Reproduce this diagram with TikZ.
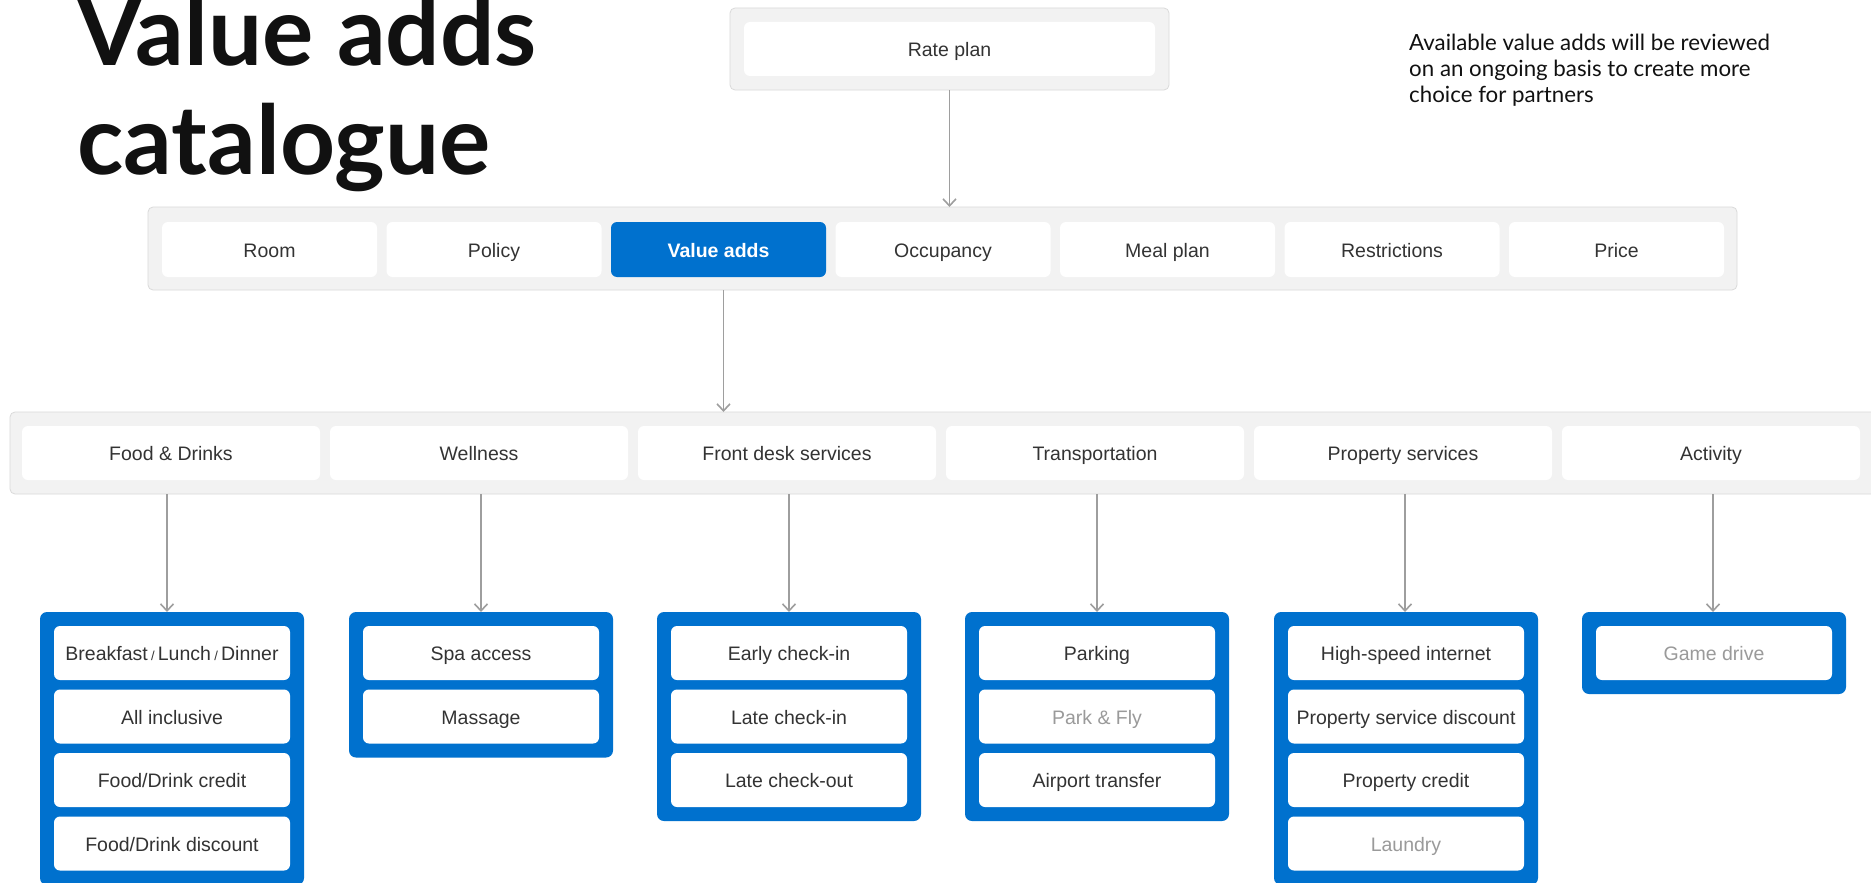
\documentclass[tikz,border=0pt]{standalone}
\usepackage{fontspec}
\setmainfont{Liberation Sans}
\newfontfamily\latof{Lato}
\usetikzlibrary{arrows.meta}
\definecolor{contbg}{HTML}{F2F2F2}
\definecolor{contln}{HTML}{DADADA}
\definecolor{vblue}{HTML}{0071CE}
\definecolor{txt}{HTML}{333333}
\definecolor{mute}{HTML}{9A9A9A}
\definecolor{arrc}{HTML}{9E9E9E}
\definecolor{ink}{HTML}{111111}
\begin{document}
\begin{tikzpicture}[x=1pt,y=-1pt,
  cont/.style={anchor=north west,inner sep=0pt,outer sep=0pt,fill=contbg,draw=contln,line width=0.8pt,rounded corners=5pt},
  box/.style={anchor=north west,inner sep=0pt,outer sep=0pt,fill=white,rounded corners=6pt,text=txt,font=\fontsize{19.5}{22}\selectfont,text height=15.5pt,text depth=0.5pt},
  rbox/.style={box,minimum width=215pt,minimum height=55pt},
  hbox/.style={box,minimum width=298pt,minimum height=54pt},
  ibox/.style={box,minimum width=236pt,minimum height=54pt},
  grp/.style={anchor=north west,inner sep=0pt,outer sep=0pt,fill=vblue,rounded corners=7pt,minimum width=264pt},
  link/.style={draw=arrc,line width=1.6pt,-{Straight Barb[length=7pt,width=13pt]}},
]
\clip (0,0) rectangle (1871,883);
\fill[white] (0,0) rectangle (1871,883);

% title
\node[anchor=base west,inner sep=0pt,text=ink,font=\latof\bfseries\fontsize{96}{110}\selectfont] (t1) at (76,66) {Value adds};
\node[anchor=base west,inner sep=0pt,text=ink,font=\latof\bfseries\fontsize{96}{110}\selectfont] (t2) at (77,174) {catalogue};

% note
\node[anchor=north west,inner sep=0pt,align=left,text=ink,font=\latof\fontsize{22.3}{26}\selectfont] (note) at (1409,34)
  {Available value adds will be reviewed\\on an ongoing basis to create more\\choice for partners};

% rate plan
\node[cont,minimum width=439pt,minimum height=82pt] (rateC) at (730,8) {};
\node[box,minimum width=411pt,minimum height=54pt] (rate) at (744,22) {Rate plan};

% row 1
\node[cont,minimum width=1589pt,minimum height=83pt] (row1) at (148,207) {};
\node[rbox] (room) at (162,222) {Room};
\node[rbox] (policy) at (386.5,222) {Policy};
\node[rbox,fill=vblue,text=white,font=\fontsize{19.5}{22}\selectfont\bfseries] (va) at (611,222) {Value adds};
\node[rbox] (occ) at (835.5,222) {Occupancy};
\node[rbox] (meal) at (1060,222) {Meal plan};
\node[rbox] (restr) at (1284.5,222) {Restrictions};
\node[rbox] (price) at (1509,222) {Price};

% row 2
\node[cont,minimum width=1880pt,minimum height=82pt] (row2) at (10,412) {};
\node[hbox] (h1) at (22,426) {Food \& Drinks};
\node[hbox] (h2) at (330,426) {Wellness};
\node[hbox] (h3) at (638,426) {Front desk services};
\node[hbox] (h4) at (946,426) {Transportation};
\node[hbox] (h5) at (1254,426) {Property services};
\node[hbox] (h6) at (1562,426) {Activity};

% groups
\node[grp,minimum height=273pt] (g1) at (40,612) {};
\node[grp,minimum height=145.5pt] (g2) at (349,612) {};
\node[grp,minimum height=209pt] (g3) at (657,612) {};
\node[grp,minimum height=209pt] (g4) at (965,612) {};
\node[grp,minimum height=273pt] (g5) at (1274,612) {};
\node[grp,minimum height=82pt] (g6) at (1582,612) {};

% items
\node[ibox] (i11) at (54,626) {Breakfast\,{\fontsize{13}{13}\selectfont/}\,Lunch\,{\fontsize{13}{13}\selectfont/}\,Dinner};
\node[ibox] (i12) at (54,689.5) {All inclusive};
\node[ibox] (i13) at (54,753) {Food/Drink credit};
\node[ibox] (i14) at (54,816.5) {Food/Drink discount};

\node[ibox] (i21) at (363,626) {Spa access};
\node[ibox] (i22) at (363,689.5) {Massage};

\node[ibox] (i31) at (671,626) {Early check-in};
\node[ibox] (i32) at (671,689.5) {Late check-in};
\node[ibox] (i33) at (671,753) {Late check-out};

\node[ibox] (i41) at (979,626) {Parking};
\node[ibox,text=mute] (i42) at (979,689.5) {Park \& Fly};
\node[ibox] (i43) at (979,753) {Airport transfer};

\node[ibox] (i51) at (1288,626) {High-speed internet};
\node[ibox] (i52) at (1288,689.5) {Property service discount};
\node[ibox] (i53) at (1288,753) {Property credit};
\node[ibox,text=mute] (i54) at (1288,816.5) {Laundry};

\node[ibox,text=mute] (i61) at (1596,626) {Game drive};

% connectors
\coordinate (vaout) at ([xshift=5pt]va.south);
\draw[link] (rateC.south) -- (rateC.south |- row1.north);
\draw[link] (vaout |- row1.south) -- (vaout |- row2.north);
\foreach \g/\dx in {g1/-5,g2/0,g3/0,g4/0,g5/-1,g6/-1}{
  \coordinate (\g top) at ([xshift=\dx pt]\g.north);
  \draw[link] (\g top |- row2.south) -- (\g top);
}
\end{tikzpicture}
\end{document}
